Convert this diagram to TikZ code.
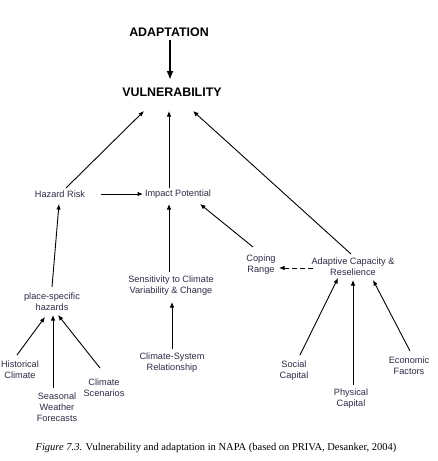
\documentclass[tikz,border=0pt]{standalone}
\usepackage{fontspec}
\setmainfont{Liberation Sans}
\newfontfamily\capfont{Liberation Serif}
\usetikzlibrary{arrows.meta}
\definecolor{labtext}{RGB}{45,45,70}
\tikzset{
  lab/.style={inner sep=0pt, align=center, text=labtext,
    font=\fontsize{9.2}{11}\selectfont},
  head/.style={inner sep=0pt, font=\fontsize{12.4}{14}\selectfont\bfseries},
  arr/.style={line width=0.9pt, -{Latex[length=5.5pt,width=4.5pt]}}
}
\begin{document}
\begin{tikzpicture}[x=1pt,y=-1pt]
    \useasboundingbox[fill=white] (0,0) rectangle (437,461);

    \node[head] (ada) at (169,32) {ADAPTATION};
    \node[head] (vul) at (172,92) {VULNERABILITY};

    \node[lab] (haz) at (60,194) {Hazard Risk};
    \node[lab] (imp) at (178,194) {Impact Potential};
    \node[lab] (cope) at (261,265) {Coping\\Range};
    \node[lab] (adcap) at (353,266.5) {Adaptive Capacity \&\\Reselience};
    \node[lab] (sens) at (171,285.5) {Sensitivity to Climate\\Variability \& Change};
    \node[lab] (csys) at (172,363) {Climate-System\\Relationship};
    \node[lab] (place) at (52,302) {place-specific\\hazards};
    \node[lab] (hist) at (20,369.5) {Historical\\Climate};
    \node[lab] (seas) at (57,407) {Seasonal\\Weather\\Forecasts};
    \node[lab] (scen) at (104,387.5) {Climate\\Scenarios};
    \node[lab] (soc) at (294,370.5) {Social\\Capital};
    \node[lab] (phys) at (351,398.5) {Physical\\Capital};
    \node[lab] (econ) at (409,365.5) {Economic\\Factors};

    \node[inner sep=0pt, font=\capfont\fontsize{10.5}{12}\selectfont] (cap) at (216,448)
        {\textit{Figure 7.3.} Vulnerability and adaptation in NAPA (based on PRIVA, Desanker, 2004)};

    % top of the tree
    \draw[line width=1.8pt, -{Latex[length=9pt,width=7pt]}] ([shift={(1,8)}]ada.center) -- ([shift={(-2,-12)}]vul.center);
    \draw[arr] ([shift={(6,-6)}]haz.center) -- ([shift={(-28,19)}]vul.center);
    \draw[arr] ([shift={(-9,-6)}]imp.center) -- ([shift={(-3,19)}]vul.center);
    \draw[arr] ([shift={(-2,-12.5)}]adcap.center) -- ([shift={(21,19)}]vul.center);

    % into impact potential
    \draw[arr] ([shift={(41,0)}]haz.center) -- ([shift={(-35,0)}]imp.center);
    \draw[arr] ([shift={(-8,-18)}]cope.center) -- ([shift={(22,10)}]imp.center);
    \draw[arr] ([shift={(-2,-13.5)}]sens.center) -- ([shift={(-9,10)}]imp.center);
    \draw[arr] ([shift={(0,-14)}]csys.center) -- ([shift={(1,16.5)}]sens.center);

    % hazards
    \draw[arr] ([shift={(0,-15)}]place.center) -- ([shift={(-1,10)}]haz.center);
    \draw[arr] ([shift={(-3,-14.5)}]hist.center) -- ([shift={(-7,15)}]place.center);
    \draw[arr] ([shift={(-4,-19)}]seas.center) -- ([shift={(1,13)}]place.center);
    \draw[arr] ([shift={(-4,-19.5)}]scen.center) -- ([shift={(6,13)}]place.center);

    % capacity
    \draw[arr, dashed, dash pattern=on 5pt off 3pt] ([shift={(-40,1.5)}]adcap.center) -- ([shift={(18,3)}]cope.center);
    \draw[arr] ([shift={(6,-15.5)}]soc.center) -- ([shift={(-15,11.5)}]adcap.center);
    \draw[arr] ([shift={(2,-13.5)}]phys.center) -- ([shift={(0,13.5)}]adcap.center);
    \draw[arr] ([shift={(1,-14.5)}]econ.center) -- ([shift={(20,13.5)}]adcap.center);

\end{tikzpicture}
\end{document}
